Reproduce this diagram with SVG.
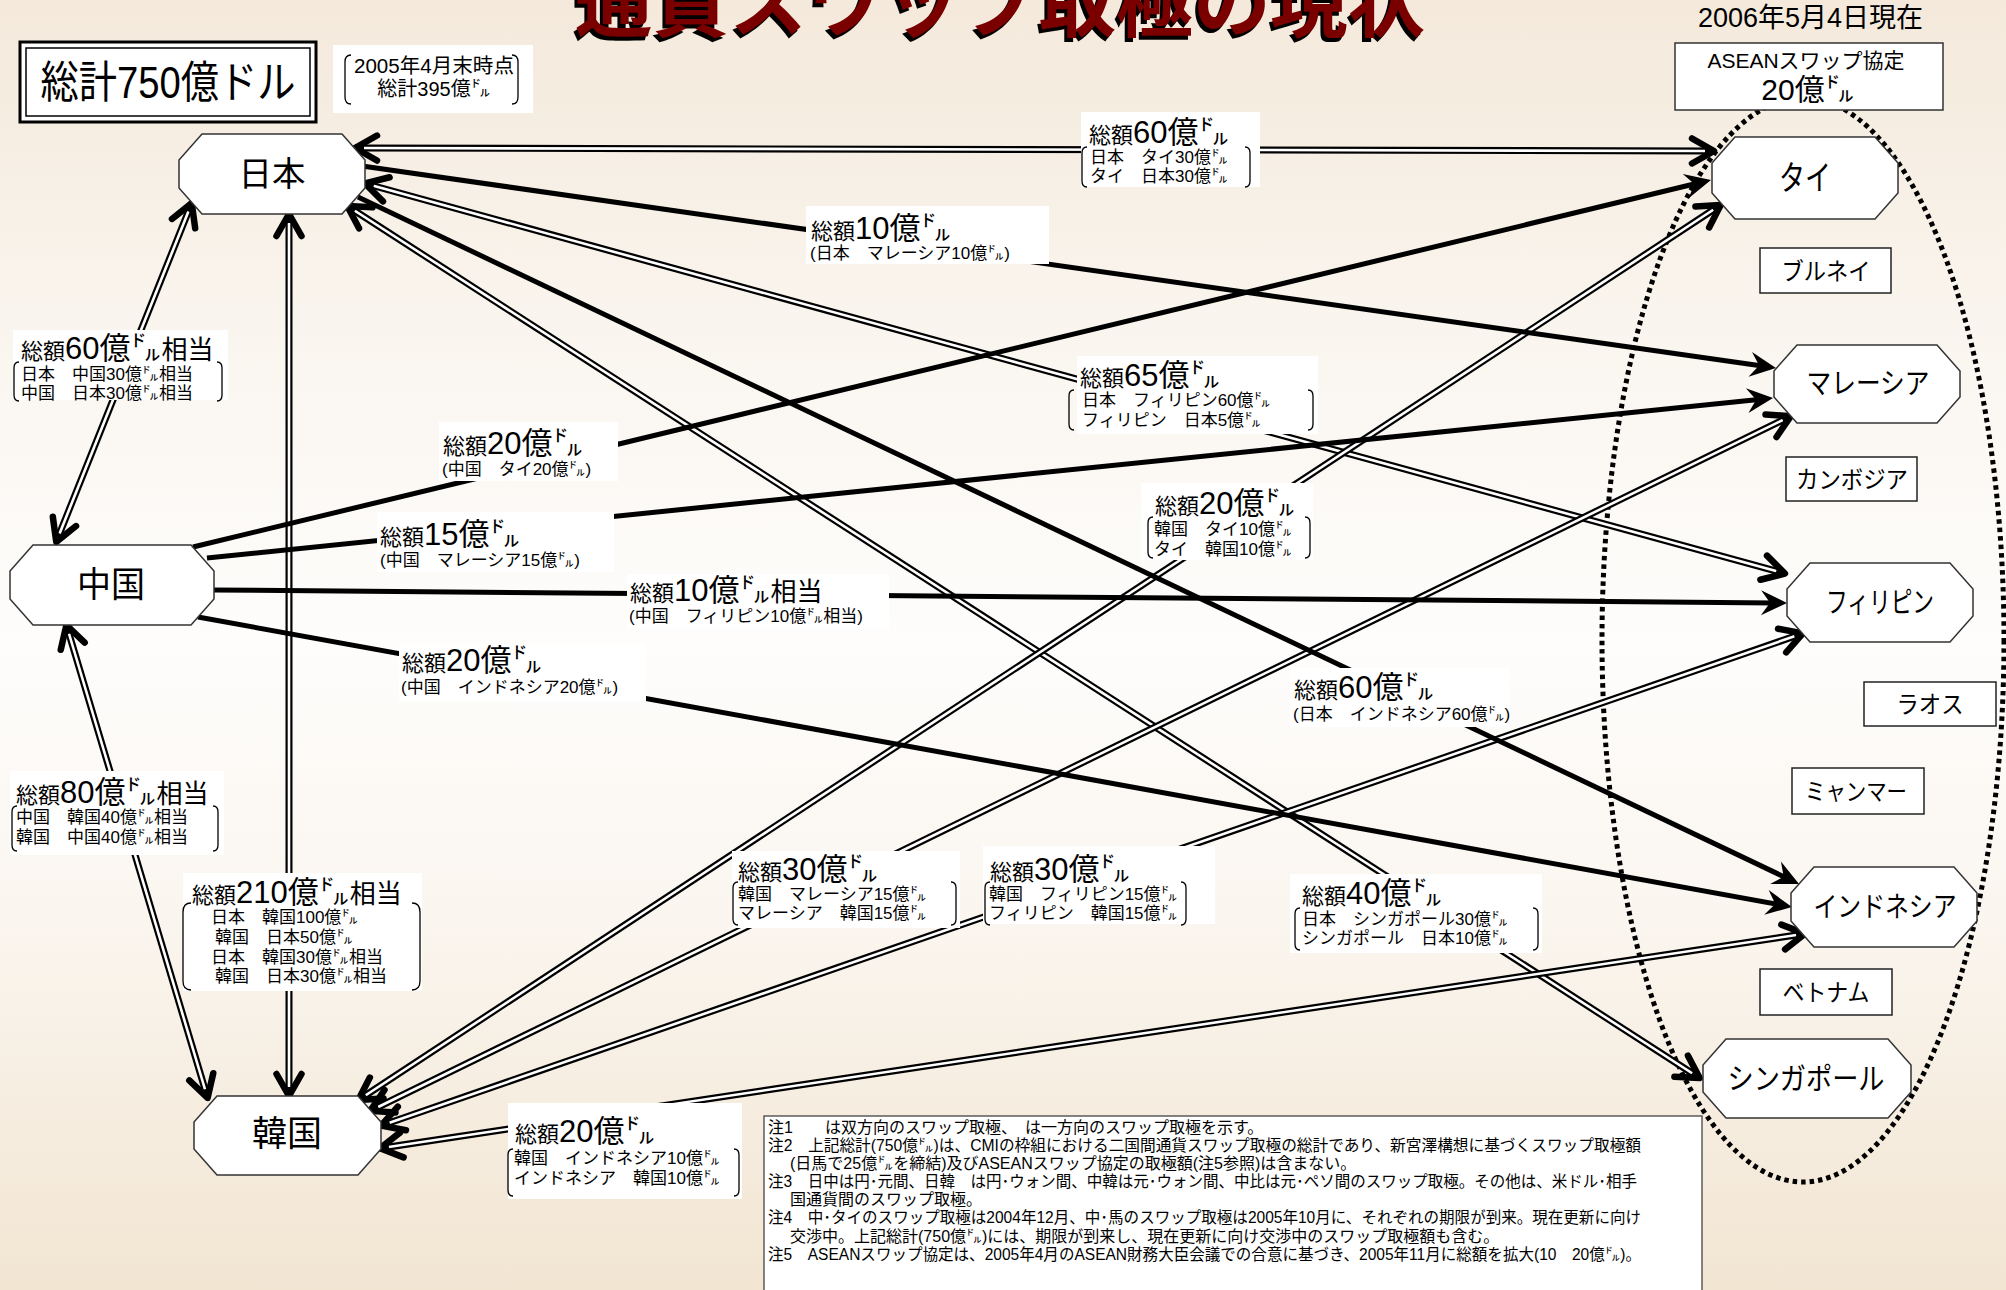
<svg xmlns="http://www.w3.org/2000/svg" width="2006" height="1290" viewBox="0 0 2006 1290">
<defs>
<linearGradient id="bg" x1="0" y1="0" x2="0" y2="1">
<stop offset="0" stop-color="#f4e9db"/>
<stop offset="0.28" stop-color="#faf6f0"/>
<stop offset="0.5" stop-color="#fefdfc"/>
<stop offset="0.72" stop-color="#faf5ee"/>
<stop offset="1" stop-color="#f2e5d2"/>
</linearGradient>
<marker id="chev" markerUnits="userSpaceOnUse" orient="auto-start-reverse" refX="0" refY="0" markerWidth="50" markerHeight="50" overflow="visible">
<rect x="-7" y="-3.6" width="9" height="7.2" fill="#000"/>
<path d="M-20 -12.5 L2 0 L-20 12.5" fill="none" stroke="#000" stroke-width="6.5" stroke-linecap="round" stroke-linejoin="round"/>
</marker>
<marker id="arr" markerUnits="userSpaceOnUse" orient="auto" refX="0" refY="0" markerWidth="50" markerHeight="50" overflow="visible">
<path d="M12 0 L-14 -12.5 L-5 0 L-14 12.5 Z" fill="#000"/>
</marker>
</defs>
<style>
.tx{font-family:'Liberation Sans','Noto Sans CJK JP',sans-serif;fill:#000}
.ta{font-size:22px}
.tb{font-size:31px}
.tc{font-size:26px}
.ln{font-size:17px}
.nt{font-size:16px}
.lb{fill:#fff}
.br{fill:none;stroke:#000;stroke-width:1.3}
.oct{fill:#fff;stroke:#333;stroke-width:1.5}
.rn{fill:#fff;stroke:#222;stroke-width:1.5}
.b{fill:none;stroke:#000;stroke-width:7}
.w{fill:none;stroke:#fff;stroke-width:2.6}
.m{fill:none;stroke:none;marker-start:url(#chev);marker-end:url(#chev)}
.s{fill:none;stroke:#000;stroke-width:5;marker-end:url(#arr)}
</style>
<rect x="0" y="0" width="2006" height="1290" fill="url(#bg)"/>

<g id="title">
<text class="tx" x="997" y="35" text-anchor="middle" font-size="78" font-weight="700" textLength="850" lengthAdjust="spacingAndGlyphs" style="fill:#000">通貨スワップ取極の現状</text>
<text class="tx" x="1000" y="31" text-anchor="middle" font-size="78" font-weight="700" textLength="850" lengthAdjust="spacingAndGlyphs" style="fill:#7a0000">通貨スワップ取極の現状</text>
</g>
<text class="tx" x="1698" y="27" font-size="27" textLength="225" lengthAdjust="spacingAndGlyphs">2006年5月4日現在</text>

<ellipse id="asean-ring" cx="1803" cy="640" rx="201" ry="542" fill="none" stroke="#000" stroke-width="5" stroke-dasharray="4.5 4"/>

<g id="connectors">
<g id="c-jp-th"><path class="b" d="M357 148 L1712 151"/><path class="w" d="M357 148 L1712 151"/><path class="m" d="M357 148 L1712 151"/></g>
<g id="c-jp-ph"><path class="b" d="M367 184 L1783 573"/><path class="w" d="M367 184 L1783 573"/><path class="m" d="M367 184 L1783 573"/></g>
<g id="c-jp-sg"><path class="b" d="M349 207 L1698 1077"/><path class="w" d="M349 207 L1698 1077"/><path class="m" d="M349 207 L1698 1077"/></g>
<g id="c-jp-cn"><path class="b" d="M191 205 L57 540"/><path class="w" d="M191 205 L57 540"/><path class="m" d="M191 205 L57 540"/></g>
<g id="c-jp-kr"><path class="b" d="M289 216 L289 1094"/><path class="w" d="M289 216 L289 1094"/><path class="m" d="M289 216 L289 1094"/></g>
<g id="c-cn-kr"><path class="b" d="M67 627 L207 1096"/><path class="w" d="M67 627 L207 1096"/><path class="m" d="M67 627 L207 1096"/></g>
<g id="c-kr-th"><path class="b" d="M360 1099 L1719 206"/><path class="w" d="M360 1099 L1719 206"/><path class="m" d="M360 1099 L1719 206"/></g>
<g id="c-kr-my"><path class="b" d="M372 1110 L1789 417"/><path class="w" d="M372 1110 L1789 417"/><path class="m" d="M372 1110 L1789 417"/></g>
<g id="c-kr-ph"><path class="b" d="M383 1125 L1801 634"/><path class="w" d="M383 1125 L1801 634"/><path class="m" d="M383 1125 L1801 634"/></g>
<g id="c-kr-id"><path class="b" d="M382 1148 L1803 934"/><path class="w" d="M382 1148 L1803 934"/><path class="m" d="M382 1148 L1803 934"/></g>
<path id="c-jp-my" class="s" d="M362 166 L1764.1 366.3"/>
<path id="c-jp-id" class="s" d="M358 197 L1788.2 878.8"/>
<path id="c-cn-th" class="s" d="M193 547 L1699.3 182.8"/>
<path id="c-cn-my" class="s" d="M207 558 L1761.1 399.2"/>
<path id="c-cn-ph" class="s" d="M212 590 L1775 602.9"/>
<path id="c-cn-id" class="s" d="M198 617 L1780.2 904.9"/>
</g>

<g id="labels">
<g id="l-jp-th">
<rect class="lb" x="1081" y="112" width="179" height="75"/>
<text class="tx" x="1089" y="143"><tspan class="ta">総額</tspan><tspan class="tb">60億㌦</tspan></text>
<text class="tx ln" x="1090" y="163">日本　タイ30億㌦</text>
<text class="tx ln" x="1090" y="182">タイ　日本30億㌦</text>
<path class="br" d="M1087 147 Q1082 147 1082 153 L1082 181 Q1082 187 1087 187"/>
<path class="br" d="M1245 147 Q1250 147 1250 153 L1250 181 Q1250 187 1245 187"/>
</g>
<g id="l-jp-my">
<rect class="lb" x="806" y="206" width="243" height="58"/>
<text class="tx" x="811" y="239"><tspan class="ta">総額</tspan><tspan class="tb">10億㌦</tspan></text>
<text class="tx ln" x="810" y="259">(日本　マレーシア10億㌦)</text>
</g>
<g id="l-jp-cn">
<rect class="lb" x="13" y="330" width="215" height="70"/>
<text class="tx" x="21" y="359"><tspan class="ta">総額</tspan><tspan class="tb">60億㌦</tspan><tspan class="tc">相当</tspan></text>
<text class="tx ln" x="21" y="380">日本　中国30億㌦相当</text>
<text class="tx ln" x="21" y="399">中国　日本30億㌦相当</text>
<path class="br" d="M19 362 Q14 362 14 368 L14 395 Q14 401 19 401"/>
<path class="br" d="M217 362 Q222 362 222 368 L222 395 Q222 401 217 401"/>
</g>
<g id="l-cn-th">
<rect class="lb" x="439" y="422" width="179" height="59"/>
<text class="tx" x="443" y="454"><tspan class="ta">総額</tspan><tspan class="tb">20億㌦</tspan></text>
<text class="tx ln" x="442" y="475">(中国　タイ20億㌦)</text>
</g>
<g id="l-cn-my">
<rect class="lb" x="377" y="512" width="237" height="60"/>
<text class="tx" x="380" y="545"><tspan class="ta">総額</tspan><tspan class="tb">15億㌦</tspan></text>
<text class="tx ln" x="380" y="566">(中国　マレーシア15億㌦)</text>
</g>
<g id="l-cn-ph">
<rect class="lb" x="627" y="574" width="262" height="55"/>
<text class="tx" x="630" y="601"><tspan class="ta">総額</tspan><tspan class="tb">10億㌦</tspan><tspan class="tc">相当</tspan></text>
<text class="tx ln" x="629" y="622">(中国　フィリピン10億㌦相当)</text>
</g>
<g id="l-cn-id">
<rect class="lb" x="399" y="644" width="247" height="57"/>
<text class="tx" x="402" y="671"><tspan class="ta">総額</tspan><tspan class="tb">20億㌦</tspan></text>
<text class="tx ln" x="401" y="693">(中国　インドネシア20億㌦)</text>
</g>
<g id="l-jp-ph">
<rect class="lb" x="1077" y="356" width="241" height="78"/>
<text class="tx" x="1080" y="386"><tspan class="ta">総額</tspan><tspan class="tb">65億㌦</tspan></text>
<text class="tx ln" x="1082" y="406">日本　フィリピン60億㌦</text>
<text class="tx ln" x="1082" y="426">フィリピン　日本5億㌦</text>
<path class="br" d="M1074 390 Q1069 390 1069 396 L1069 424 Q1069 430 1074 430"/>
<path class="br" d="M1308 390 Q1313 390 1313 396 L1313 424 Q1313 430 1308 430"/>
</g>
<g id="l-kr-th">
<rect class="lb" x="1141" y="483" width="172" height="77"/>
<text class="tx" x="1155" y="514"><tspan class="ta">総額</tspan><tspan class="tb">20億㌦</tspan></text>
<text class="tx ln" x="1154" y="535">韓国　タイ10億㌦</text>
<text class="tx ln" x="1154" y="555">タイ　韓国10億㌦</text>
<path class="br" d="M1153 517 Q1148 517 1148 523 L1148 552 Q1148 558 1153 558"/>
<path class="br" d="M1305 517 Q1310 517 1310 523 L1310 552 Q1310 558 1305 558"/>
</g>
<g id="l-jp-id">
<rect class="lb" x="1290" y="668" width="220" height="59"/>
<text class="tx" x="1294" y="698"><tspan class="ta">総額</tspan><tspan class="tb">60億㌦</tspan></text>
<text class="tx ln" x="1293" y="720">(日本　インドネシア60億㌦)</text>
</g>
<g id="l-kr-my">
<rect class="lb" x="732" y="851" width="228" height="77"/>
<text class="tx" x="738" y="880"><tspan class="ta">総額</tspan><tspan class="tb">30億㌦</tspan></text>
<text class="tx ln" x="738" y="900">韓国　マレーシア15億㌦</text>
<text class="tx ln" x="738" y="919">マレーシア　韓国15億㌦</text>
<path class="br" d="M738 882 Q733 882 733 888 L733 919 Q733 925 738 925"/>
<path class="br" d="M951 882 Q956 882 956 888 L956 919 Q956 925 951 925"/>
</g>
<g id="l-kr-ph">
<rect class="lb" x="983" y="846" width="232" height="78"/>
<text class="tx" x="990" y="880"><tspan class="ta">総額</tspan><tspan class="tb">30億㌦</tspan></text>
<text class="tx ln" x="989" y="900">韓国　フィリピン15億㌦</text>
<text class="tx ln" x="989" y="919">フィリピン　韓国15億㌦</text>
<path class="br" d="M990 882 Q985 882 985 888 L985 919 Q985 925 990 925"/>
<path class="br" d="M1181 882 Q1186 882 1186 888 L1186 919 Q1186 925 1181 925"/>
</g>
<g id="l-jp-sg">
<rect class="lb" x="1290" y="874" width="252" height="79"/>
<text class="tx" x="1302" y="904"><tspan class="ta">総額</tspan><tspan class="tb">40億㌦</tspan></text>
<text class="tx ln" x="1302" y="925">日本　シンガポール30億㌦</text>
<text class="tx ln" x="1302" y="944">シンガポール　日本10億㌦</text>
<path class="br" d="M1300 908 Q1295 908 1295 914 L1295 944 Q1295 950 1300 950"/>
<path class="br" d="M1533 908 Q1538 908 1538 914 L1538 944 Q1538 950 1533 950"/>
</g>
<g id="l-cn-kr">
<rect class="lb" x="10" y="771" width="214" height="84"/>
<text class="tx" x="16" y="803"><tspan class="ta">総額</tspan><tspan class="tb">80億㌦</tspan><tspan class="tc">相当</tspan></text>
<text class="tx ln" x="16" y="823">中国　韓国40億㌦相当</text>
<text class="tx ln" x="16" y="843">韓国　中国40億㌦相当</text>
<path class="br" d="M17 806 Q12 806 12 812 L12 845 Q12 851 17 851"/>
<path class="br" d="M213 806 Q218 806 218 812 L218 845 Q218 851 213 851"/>
</g>
<g id="l-jp-kr">
<rect class="lb" x="183" y="873" width="239" height="118"/>
<text class="tx" x="192" y="903"><tspan class="ta">総額</tspan><tspan class="tb">210億㌦</tspan><tspan class="tc">相当</tspan></text>
<text class="tx ln" x="211" y="923">日本　韓国100億㌦</text>
<text class="tx ln" x="215" y="943">韓国　日本50億㌦</text>
<text class="tx ln" x="211" y="963">日本　韓国30億㌦相当</text>
<text class="tx ln" x="215" y="982">韓国　日本30億㌦相当</text>
<path class="br" d="M191 903 Q183 903 183 912 L183 981 Q183 990 191 990"/>
<path class="br" d="M412 903 Q420 903 420 912 L420 981 Q420 990 412 990"/>
</g>
<g id="l-kr-id">
<rect class="lb" x="508" y="1103" width="234" height="96"/>
<text class="tx" x="515" y="1142"><tspan class="ta">総額</tspan><tspan class="tb">20億㌦</tspan></text>
<text class="tx ln" x="514" y="1164">韓国　インドネシア10億㌦</text>
<text class="tx ln" x="514" y="1184">インドネシア　韓国10億㌦</text>
<path class="br" d="M513 1149 Q508 1149 508 1155 L508 1190 Q508 1196 513 1196"/>
<path class="br" d="M734 1149 Q739 1149 739 1155 L739 1190 Q739 1196 734 1196"/>
</g>
</g>

<g id="n-total">
<rect x="20" y="42" width="296" height="80" fill="#fff" stroke="#000" stroke-width="3"/>
<rect x="26" y="48" width="284" height="68" fill="#fff" stroke="#000" stroke-width="1.5"/>
<text class="tx" x="168" y="98" text-anchor="middle" font-size="44" textLength="255" lengthAdjust="spacingAndGlyphs">総計750億ドル</text>
</g>
<g id="n-2005">
<rect class="lb" x="333" y="45" width="200" height="68"/>
<text class="tx" x="434" y="73" text-anchor="middle" font-size="20" textLength="160" lengthAdjust="spacingAndGlyphs">2005年4月末時点</text>
<text class="tx" x="434" y="96" text-anchor="middle" font-size="20">総計395億㌦</text>
<path class="br" d="M351 55 Q345 55 345 62 L345 97 Q345 104 351 104"/>
<path class="br" d="M512 55 Q518 55 518 62 L518 97 Q518 104 512 104"/>
</g>

<g id="n-jp"><polygon class="oct" points="202,134 342,134 365,160 365,188 342,214 202,214 179,188 179,160"/><text class="tx" x="272" y="186" text-anchor="middle" font-size="34" textLength="67" lengthAdjust="spacingAndGlyphs">日本</text></g>
<g id="n-cn"><polygon class="oct" points="33,545 191,545 214,571 214,599 191,625 33,625 10,599 10,571"/><text class="tx" x="111" y="597" text-anchor="middle" font-size="35" textLength="68" lengthAdjust="spacingAndGlyphs">中国</text></g>
<g id="n-kr"><polygon class="oct" points="217,1096 358,1096 381,1122 381,1149 358,1175 217,1175 194,1149 194,1122"/><text class="tx" x="287" y="1146" text-anchor="middle" font-size="35" textLength="70" lengthAdjust="spacingAndGlyphs">韓国</text></g>
<g id="n-th"><polygon class="oct" points="1735,137 1875,137 1898,163 1898,193 1875,219 1735,219 1712,193 1712,163"/><text class="tx" x="1805" y="190" text-anchor="middle" font-size="34" textLength="52" lengthAdjust="spacingAndGlyphs">タイ</text></g>
<g id="n-my"><polygon class="oct" points="1797,345 1937,345 1960,371 1960,397 1937,423 1797,423 1774,397 1774,371"/><text class="tx" x="1868" y="394" text-anchor="middle" font-size="29" textLength="123" lengthAdjust="spacingAndGlyphs">マレーシア</text></g>
<g id="n-ph"><polygon class="oct" points="1810,563 1950,563 1973,589 1973,616 1950,642 1810,642 1787,616 1787,589"/><text class="tx" x="1880" y="613" text-anchor="middle" font-size="29" textLength="108" lengthAdjust="spacingAndGlyphs">フィリピン</text></g>
<g id="n-id"><polygon class="oct" points="1814,867 1954,867 1977,893 1977,921 1954,947 1814,947 1791,921 1791,893"/><text class="tx" x="1885" y="917" text-anchor="middle" font-size="28" textLength="143" lengthAdjust="spacingAndGlyphs">インドネシア</text></g>
<g id="n-sg"><polygon class="oct" points="1726,1039 1888,1039 1911,1065 1911,1092 1888,1118 1726,1118 1703,1092 1703,1065"/><text class="tx" x="1806" y="1089" text-anchor="middle" font-size="30" textLength="157" lengthAdjust="spacingAndGlyphs">シンガポール</text></g>

<g id="n-bn"><rect class="rn" x="1760" y="248" width="131" height="45"/><text class="tx" x="1826" y="280" text-anchor="middle" font-size="24" textLength="89" lengthAdjust="spacingAndGlyphs">ブルネイ</text></g>
<g id="n-kh"><rect class="rn" x="1786" y="457" width="131" height="44"/><text class="tx" x="1852" y="488" text-anchor="middle" font-size="24" textLength="112" lengthAdjust="spacingAndGlyphs">カンボジア</text></g>
<g id="n-la"><rect class="rn" x="1864" y="682" width="132" height="44"/><text class="tx" x="1930" y="713" text-anchor="middle" font-size="24" textLength="67" lengthAdjust="spacingAndGlyphs">ラオス</text></g>
<g id="n-mm"><rect class="rn" x="1792" y="768" width="132" height="46"/><text class="tx" x="1856" y="800" text-anchor="middle" font-size="24" textLength="102" lengthAdjust="spacingAndGlyphs">ミャンマー</text></g>
<g id="n-vn"><rect class="rn" x="1760" y="969" width="132" height="46"/><text class="tx" x="1826" y="1001" text-anchor="middle" font-size="24" textLength="87" lengthAdjust="spacingAndGlyphs">ベトナム</text></g>

<g id="n-asean">
<rect x="1675" y="43" width="268" height="67" fill="#fff" stroke="#333" stroke-width="1.5"/>
<text class="tx" x="1806" y="68" text-anchor="middle" font-size="21">ASEANスワップ協定</text>
<text class="tx" x="1808" y="100" text-anchor="middle" font-size="30">20億㌦</text>
</g>

<g id="notes">
<rect x="764" y="1116" width="938" height="180" fill="#fff" stroke="#444" stroke-width="1.3"/>
<text class="tx nt" x="768" y="1133">注1　　は双方向のスワップ取極、　は一方向のスワップ取極を示す。</text>
<text class="tx nt" x="768" y="1151" textLength="873" lengthAdjust="spacingAndGlyphs">注2　上記総計(750億㌦)は、CMIの枠組における二国間通貨スワップ取極の総計であり、新宮澤構想に基づくスワップ取極額</text>
<text class="tx nt" x="790" y="1169">(日馬で25億㌦を締結)及びASEANスワップ協定の取極額(注5参照)は含まない。</text>
<text class="tx nt" x="768" y="1187" textLength="869" lengthAdjust="spacingAndGlyphs">注3　日中は円･元間、日韓　は円･ウォン間、中韓は元･ウォン間、中比は元･ペソ間のスワップ取極。その他は、米ドル･相手</text>
<text class="tx nt" x="790" y="1205">国通貨間のスワップ取極。</text>
<text class="tx nt" x="768" y="1223" textLength="873" lengthAdjust="spacingAndGlyphs">注4　中･タイのスワップ取極は2004年12月、中･馬のスワップ取極は2005年10月に、それぞれの期限が到来。現在更新に向け</text>
<text class="tx nt" x="790" y="1242">交渉中。上記総計(750億㌦)には、期限が到来し、現在更新に向け交渉中のスワップ取極額も含む。</text>
<text class="tx nt" x="768" y="1260" textLength="873" lengthAdjust="spacingAndGlyphs">注5　ASEANスワップ協定は、2005年4月のASEAN財務大臣会議での合意に基づき、2005年11月に総額を拡大(10　20億㌦)。</text>
</g>
</svg>
